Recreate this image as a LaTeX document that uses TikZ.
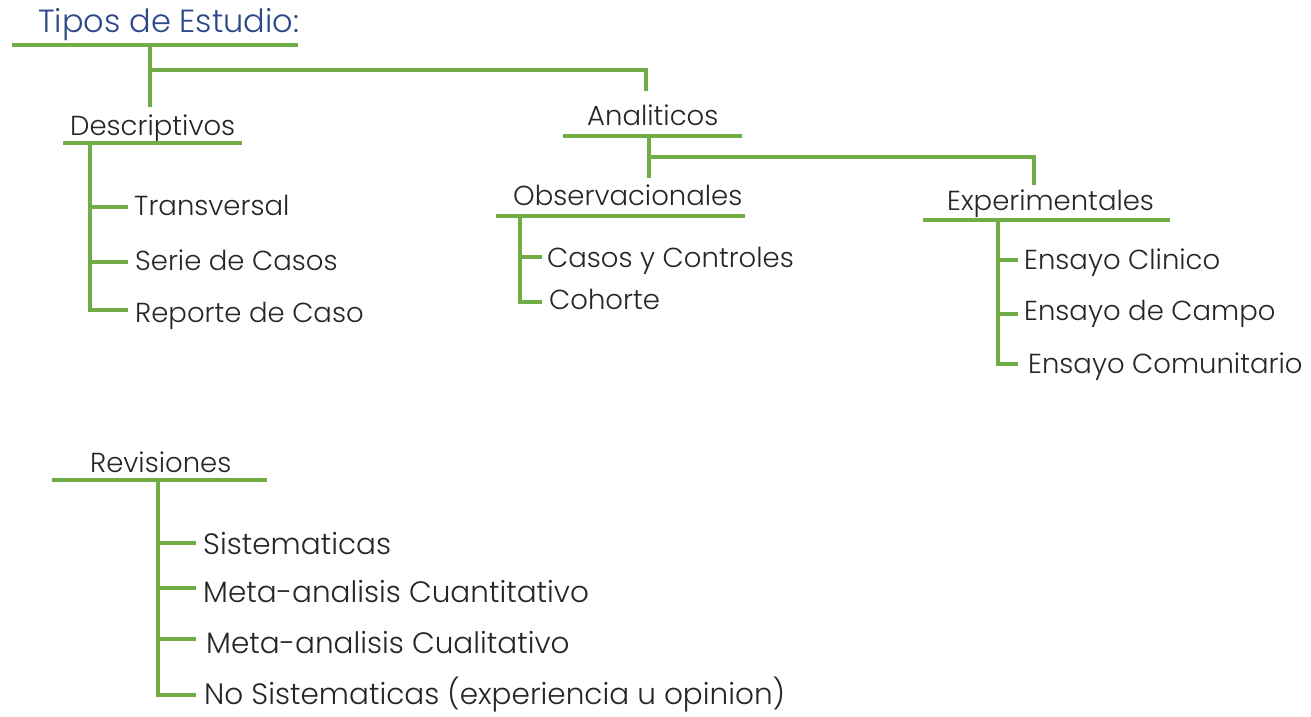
\documentclass[tikz,border=0pt]{standalone}
\usepackage{fontspec}
\setmainfont{Poppins}[UprightFont=* Light]
\definecolor{rama}{RGB}{112,173,71}
\definecolor{titulo}{RGB}{44,72,135}
\tikzset{
	linea/.style={draw=rama, line width=3.5pt},
	hoja/.style={anchor=base west, inner sep=0pt, text=black!85,
		font=\fontsize{27.5}{32}\selectfont},
	hojarev/.style={hoja, font=\fontsize{29.5}{34}\selectfont},
}

\begin{document}
\begin{tikzpicture}[x=1pt, y=-1pt]
		\useasboundingbox (0,0) rectangle (1311,717);
		% titulo
		\node[hoja, text=titulo, font=\fontsize{32}{36}\selectfont] (tipos) at (38,33) {Tipos de Estudio:};
		\draw[linea] (12,45) -- (298,45);
		\draw[linea] (150,45) -- (150,107);
		\draw[linea] (150,70) -- (646,70) -- (646,91);
		% descriptivos
		\node[hoja] (desc) at (70,135) {Descriptivos};
		\draw[linea] (63,143) -- (242,143);
		\draw[linea] (90,143) |- (128,310);
		\draw[linea] (90,207) -- (128,207);
		\draw[linea] (90,262) -- (128,262);
		\node[hoja] (trans) at (134,215) {Transversal};
		\node[hoja] (serie) at (135,270) {Serie de Casos};
		\node[hoja] (reporte) at (135,322) {Reporte de Caso};
		% analiticos
		\node[hoja] (anal) at (587,125) {Analiticos};
		\draw[linea] (563,136) -- (742,136);
		\draw[linea] (649,136) -- (649,178);
		\draw[linea] (649,157) -- (1034,157) -- (1034,185);
		% observacionales
		\node[hoja] (obs) at (513,205) {Observacionales};
		\draw[linea] (496,216) -- (745,216);
		\draw[linea] (520,216) |- (542,302);
		\draw[linea] (520,257) -- (542,257);
		\node[hoja] (casos) at (547,267) {Casos y Controles};
		\node[hoja] (cohorte) at (549,309) {Cohorte};
		% experimentales
		\node[hoja] (exp) at (947,210) {Experimentales};
		\draw[linea] (923,220) -- (1170,220);
		\draw[linea] (998,222) |- (1018,364);
		\draw[linea] (998,260) -- (1018,260);
		\draw[linea] (998,314) -- (1018,314);
		\node[hoja] (clinico) at (1024,269) {Ensayo Clinico};
		\node[hoja] (campo) at (1024,320) {Ensayo de Campo};
		\node[hoja] (comun) at (1028,373) {Ensayo Comunitario};
		% revisiones
		\node[hoja] (rev) at (90,472) {Revisiones};
		\draw[linea] (52,480) -- (267,480);
		\draw[linea] (158,480) |- (196,695);
		\draw[linea] (158,543) -- (196,543);
		\draw[linea] (158,588) -- (196,588);
		\draw[linea] (158,639) -- (196,639);
		\node[hojarev] (sist) at (203,554) {Sistematicas};
		\node[hojarev] (cuant) at (203,602) {Meta-analisis Cuantitativo};
		\node[hojarev] (cual) at (206,653) {Meta-analisis Cualitativo};
		\node[hojarev] (nosist) at (204,704) {No Sistematicas (experiencia u opinion)};
	\end{tikzpicture}
\end{document}
